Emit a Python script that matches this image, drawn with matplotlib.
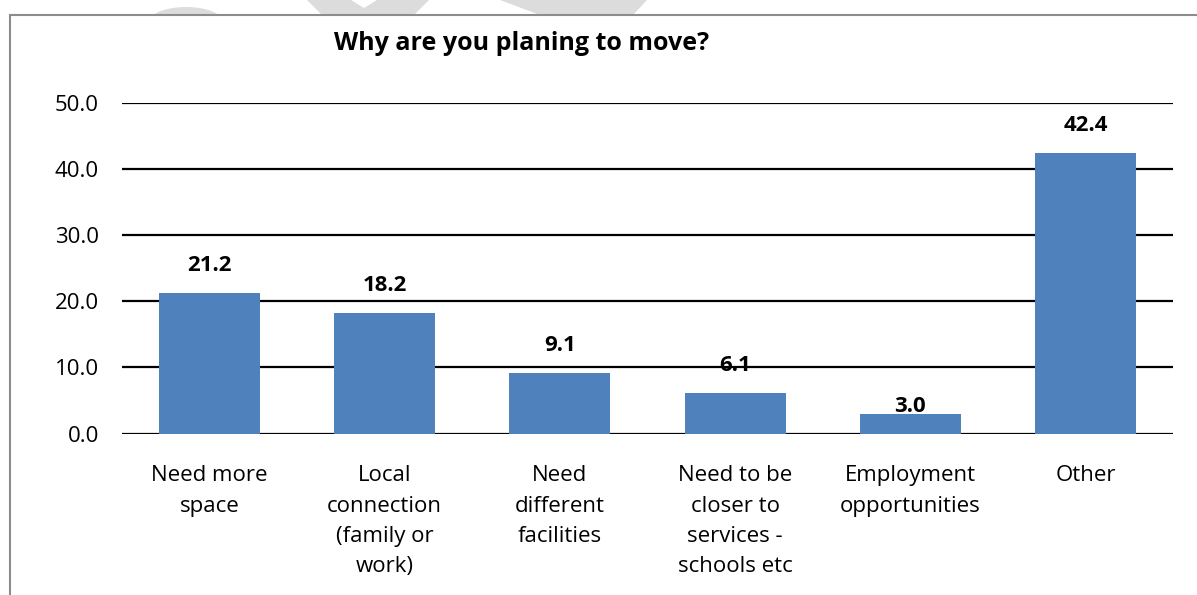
import matplotlib.pyplot as plt
from matplotlib.patches import Rectangle, Polygon, Ellipse

# survey answers (percent of respondents)
reasons = ['Need more\nspace', 'Local\nconnection\n(family or\nwork)', 'Need\ndifferent\nfacilities',
           'Need to be\ncloser to\nservices -\nschools etc', 'Employment\nopportunities', 'Other']
shares = [21.2, 18.2, 9.1, 6.1, 3.0, 42.4]
y_ticks = [0, 10, 20, 30, 40, 50]

W, H = 1197, 595
plt.rcParams['font.family'] = ['Open Sans', 'DejaVu Sans']

fig = plt.figure(figsize=(W / 100, H / 100), dpi=100)


def px(x, y):
    # pixel position (from top-left) -> figure fraction
    return (x / W, 1 - y / H)


# faint watermark pieces peeking above the chart frame
wm = '#dcdcdc'
fig.patches.append(Ellipse(px(186, 22), 74 / W, 30 / H, transform=fig.transFigure,
                           facecolor=wm, edgecolor='none', zorder=0))
fig.patches.append(Polygon([px(307, 0), px(351, 0), px(364, 8), px(377, 0), px(429, 0),
                            px(414, 15), px(322, 15)], closed=True, transform=fig.transFigure,
                           facecolor=wm, edgecolor='none', zorder=0))
fig.patches.append(Polygon([px(500, 0), px(647, 0), px(633, 15), px(540, 15)], closed=True,
                           transform=fig.transFigure, facecolor=wm, edgecolor='none', zorder=0))

# chart frame (runs off the right and bottom edges)
fig.patches.append(Rectangle(px(10, 620), (W + 40) / W, (620 - 15) / H, transform=fig.transFigure,
                             facecolor='white', edgecolor='#8c8c8c', linewidth=1.5, zorder=1))

ax = fig.add_axes([122 / W, 1 - 433.5 / H, (1173 - 122) / W, (433.5 - 102.7) / H])
ax.set_zorder(2)
ax.patch.set_visible(False)

x = range(len(reasons))
bars = ax.bar(x, shares, width=0.577, color='#4f81bd', zorder=3)

for xi, v in zip(x, shares):
    off = 5 if v < 5 else 20
    ax.annotate(f'{v:.1f}', (xi, v), xytext=(0, off), textcoords='offset points',
                ha='center', va='center', fontsize=16, fontweight='bold')

ax.set_xlim(-0.5, len(reasons) - 0.5)
ax.set_ylim(0, 50)
ax.set_yticks(y_ticks)
ax.set_yticklabels([f'{t:.1f}' for t in y_ticks])
ax.set_xticks(list(x))
ax.set_xticklabels(reasons, linespacing=1.58)
ax.tick_params(axis='both', length=0, labelsize=16)
ax.tick_params(axis='y', pad=16.5)
ax.tick_params(axis='x', pad=23)
ax.yaxis.grid(True, color='black', linewidth=1.6, zorder=1)
ax.set_axisbelow(True)
for s in ax.spines.values():
    s.set_visible(False)

fig.text(522 / W, 1 - 44 / H, 'Why are you planing to move?', ha='center', va='center',
         fontsize=18, fontweight='bold')

fig.savefig('out.png', dpi=100)
